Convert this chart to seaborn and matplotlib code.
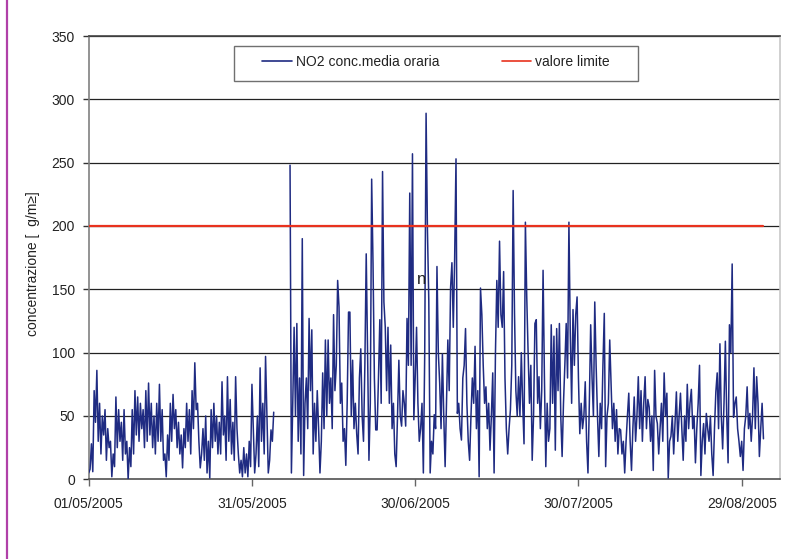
import numpy as np
import pandas as pd
import matplotlib
matplotlib.use("Agg")
import matplotlib.pyplot as plt
from matplotlib.lines import Line2D
from matplotlib.patches import Rectangle
import seaborn as sns

nan = np.nan

# 6-hourly NO2 readings (µg/m³), day by day
no2_may = [
    5, 8, 28, 6,  70, 45, 86, 30,  60, 20, 50, 35,  55, 15, 40, 25,
    30, 2, 20, 10,  65, 25, 55, 30,  45, 15, 55, 20,  30, 0, 25, 10,
    55, 20, 70, 35,  65, 30, 60, 40,  55, 25, 70, 30,  76, 35, 60, 25,
    50, 20, 60, 30,  75, 30, 55, 15,  20, 2, 35, 15,  60, 30, 67, 40,
    55, 25, 45, 20,  35, 9, 40, 25,  60, 30, 55, 20,  70, 40, 92, 55,
    60, 30, 9, 20,  40, 15, 50, 5,  30, 1, 55, 25,  60, 30, 50, 20,
    45, 20, 77, 35,  50, 15, 81, 30,  63, 20, 45, 15,  81, 40, 20, 5,
    15, 2, 25, 5,  20, 2, 30, 10,  75, 40, 5, 20,
]
no2_jun = [
    50, 10, 88, 30,  60, 20, 97, 50,  5, 15, 39, 30,  53, nan, nan, nan,
    nan, nan, nan, nan,  nan, nan, nan, nan,  248, 5, 60, 120,  50, 123, 30, 80,
    20, 190, 3, 60,  80, 40, 127, 70,  118, 20, 60, 30,  70, 40, 5, 30,
    84, 40, 110, 50,  110, 60, 80, 40,  130, 70, 90, 157,  136, 60, 76, 30,
    40, 11, 60, 132,  132, 50, 94, 40,  60, 36, 20, 80,  103, 50, 30, 90,
    178, 100, 15, 60,  237, 170, 80, 39,  39, 80, 126, 60,  243, 140, 120, 70,
    120, 60, 106, 40,  60, 20, 10, 50,  94, 50, 42, 70,  60, 42, 127, 90,
    226, 90, 257, 47,  80, 120, 60, 30,
]
no2_jul = [
    40, 60, 5, 99,  289, 197, 141, 5,  30, 20, 51, 40,  168, 100, 76, 40,
    99, 50, 10, 60,  110, 70, 151, 171,  120, 174, 253, 52,  60, 40, 31, 80,
    90, 119, 60, 30,  15, 50, 80, 60,  105, 40, 70, 2,  151, 130, 90, 60,
    73, 40, 60, 23,  50, 84, 5, 100,  157, 120, 188, 130,  120, 164, 80, 40,
    20, 40, 55, 90,  228, 131, 70, 50,  81, 50, 100, 60,  28, 203, 144, 100,
    60, 90, 15, 50,  123, 126, 60, 81,  40, 70, 165, 80,  10, 60, 30, 40,
    122, 60, 113, 23,  119, 70, 123, 50,  18, 60, 90, 123,  80, 203, 115, 60,
    134, 90, 130, 144,  80, 36, 60, 40,  50, 77, 30, 5,
]
no2_aug = [
    60, 122, 80, 50,  140, 90, 50, 18,  60, 40, 90, 131,  10, 50, 60, 110,
    74, 40, 60, 30,  55, 20, 40, 39,  20, 30, 5, 30,  50, 68, 30, 7,
    40, 65, 30, 50,  81, 40, 70, 30,  60, 81, 40, 63,  57, 30, 50, 7,
    86, 50, 44, 20,  40, 60, 30, 84,  50, 68, 1, 30,  34, 50, 20, 45,
    69, 30, 50, 68,  40, 15, 50, 30,  75, 40, 60, 71,  40, 50, 13, 40,
    60, 90, 3, 30,  44, 20, 52, 40,  30, 50, 20, 3,  40, 69, 84, 40,
    107, 50, 24, 60,  109, 50, 13, 122,  100, 170, 49, 60,  65, 40, 30, 18,
    30, 7, 40, 50,  73, 40, 52, 30,  50, 88, 40, 81,
]
no2_sep = [60, 18, 40, 60, 32]

LIMIT = 200
tick_dates = ["2005-05-01", "2005-05-31", "2005-06-30", "2005-07-30", "2005-08-29"]
tick_labels = ["01/05/2005", "31/05/2005", "30/06/2005", "30/07/2005", "29/08/2005"]
y_ticks = [0, 50, 100, 150, 200, 250, 300, 350]
series_names = ["NO2 conc.media oraria", "valore limite"]

no2 = no2_may + no2_jun + no2_jul + no2_aug + no2_sep
dates = pd.date_range("2005-05-01", periods=len(no2), freq="6h")
df = pd.DataFrame({"date": dates, "no2": no2})
df["seg"] = df["no2"].isna().cumsum()
df_valid = df.dropna()
lim_df = pd.DataFrame({"date": [dates[0], dates[-1]], "lim": [LIMIT, LIMIT]})

sns.set_style("white")
plt.rcParams["font.family"] = ["Liberation Sans", "DejaVu Sans"]

BLUE = "#1f2b82"
RED = "#e8321e"

fig = plt.figure(figsize=(7.98, 5.59), dpi=100)
ax = fig.add_axes([88.7 / 798, 1 - 479.3 / 559, (780 - 88.7) / 798, (479.3 - 36) / 559])

for yv in y_ticks[1:]:
    ax.axhline(yv, color="#222222", lw=0.9, zorder=1)

sns.lineplot(data=df_valid, x="date", y="no2", units="seg", estimator=None,
             color=BLUE, lw=1.1, ax=ax, zorder=3)
sns.lineplot(data=lim_df, x="date", y="lim", color=RED, lw=1.6, ax=ax, zorder=4)

x0 = pd.Timestamp("2005-05-01")
ax.set_xlim(x0, x0 + pd.Timedelta(days=127.04))
ax.set_ylim(0, 350)
ax.set_xticks(pd.to_datetime(tick_dates))
ax.set_xticklabels(tick_labels)
ax.set_yticks(y_ticks)
ax.set_yticklabels([str(v) for v in y_ticks])
ax.tick_params(axis="x", direction="out", length=5, width=1, color="#666666",
               labelsize=10, pad=8, labelcolor="#222222", bottom=True)
ax.tick_params(axis="y", direction="out", length=4, width=1, color="#333333",
               labelsize=10, pad=6, labelcolor="#222222", left=True)
ax.set_xlabel("")
ax.set_ylabel("")
for s, c in [("left", "#808080"), ("bottom", "#505050"), ("right", "#c8c8c8"), ("top", "#444444")]:
    ax.spines[s].set_visible(True)
    ax.spines[s].set_color(c)
    ax.spines[s].set_linewidth(1.2)

fig.text(33 / 798, 1 - 264 / 559, "concentrazione [  g/m≥]", rotation=90,
         ha="center", va="center", fontsize=10, color="#222222")
fig.text(422 / 798, 1 - 280 / 559, "n", ha="center", va="center", fontsize=12, color="#222222")

# legend box
bx0, bx1, by0, by1 = 234.3, 637.7, 46, 81
fig.patches.append(Rectangle((bx0 / 798, 1 - by1 / 559), (bx1 - bx0) / 798, (by1 - by0) / 559,
                             transform=fig.transFigure, facecolor="white",
                             edgecolor="#707070", lw=1.0, zorder=5))
handles = [Line2D([], [], color=BLUE, lw=1.2), Line2D([], [], color=RED, lw=1.2)]
leg = fig.legend(handles, series_names, loc="center", ncol=2, frameon=False,
                 bbox_to_anchor=((bx0 + bx1) / 2 / 798, 1 - 62 / 559),
                 fontsize=10, handlelength=2.1, handletextpad=0.3, columnspacing=4.5)
leg.set_zorder(6)
for t in leg.get_texts():
    t.set_color("#222222")

# left page border
fig.add_artist(Line2D([6.5 / 798, 6.5 / 798], [0, 1], transform=fig.transFigure,
                      color="#b040a8", lw=1.6))

fig.savefig("out.png", dpi=100)
